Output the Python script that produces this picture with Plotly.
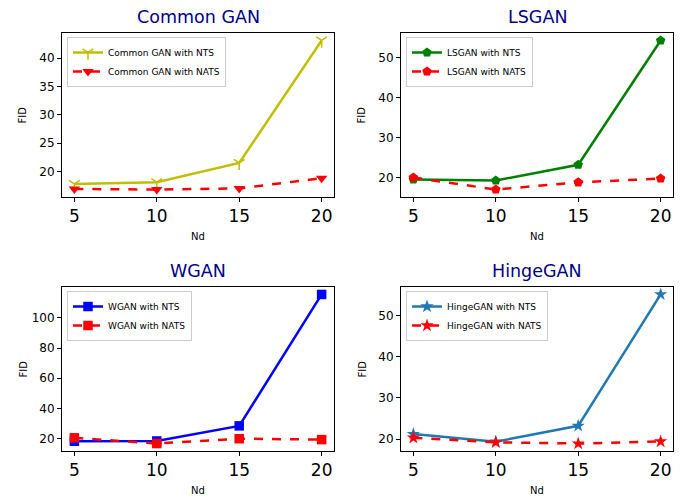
import plotly.graph_objects as go

nd = [5, 10, 15, 20]

common_nts = [17.8, 18.1, 21.5, 43.1]
common_nats = [16.9, 16.8, 17.0, 18.8]
lsgan_nts = [19.5, 19.25, 23.2, 54.3]
lsgan_nats = [20.0, 17.0, 18.8, 19.75]
wgan_nts = [18.3, 18.5, 28.5, 115.5]
wgan_nats = [20.6, 16.8, 20.0, 19.4]
hinge_nts = [21.2, 19.35, 23.2, 55.1]
hinge_nats = [20.3, 19.2, 18.9, 19.4]

titles = ["Common GAN", "LSGAN", "WGAN", "HingeGAN"]
names = ["Common GAN", "LSGAN", "WGAN", "HingeGAN"]
colors = ["#BFBF00", "#008000", "#0000FF", "#1f77b4"]
symbols = ["y-down-open", "pentagon", "square", "star"]
nats_symbols = ["triangle-down", "pentagon", "square", "star"]
sizes = [9, 10, 9.5, 10]
nts_data = [common_nts, lsgan_nts, wgan_nts, hinge_nts]
nats_data = [common_nats, lsgan_nats, wgan_nats, hinge_nats]
yticks = [[20, 25, 30, 35, 40], [20, 30, 40, 50], [20, 40, 60, 80, 100], [20, 30, 40, 50]]

W, H = 683, 497
boxes = [(62, 334, 33, 197), (401, 673, 33, 197), (62, 334, 287, 451), (401, 673, 287, 451)]

fig = go.Figure()
annotations = []
layout = dict(width=W, height=H, margin=dict(l=0, r=0, t=0, b=0),
              paper_bgcolor="white", plot_bgcolor="white",
              font=dict(family="DejaVu Sans", color="black"))

for i in range(4):
    k = "" if i == 0 else str(i + 1)
    x0, x1, y0, y1 = boxes[i]
    leg = "legend" if i == 0 else f"legend{i+1}"
    nts_marker = dict(symbol=symbols[i], size=sizes[i], color=colors[i])
    if i == 0:
        nts_marker["line"] = dict(color=colors[i], width=1.5)
    fig.add_trace(go.Scatter(x=nd, y=nts_data[i], mode="lines+markers",
                             name=f"{names[i]} with NTS",
                             line=dict(color=colors[i], width=2.5),
                             marker=nts_marker,
                             xaxis="x" + k, yaxis="y" + k, legend=leg))
    fig.add_trace(go.Scatter(x=nd, y=nats_data[i], mode="lines+markers",
                             name=f"{names[i]} with NATS",
                             line=dict(color="#FF0000", width=2.5, dash="dash"),
                             marker=dict(symbol=nats_symbols[i], size=sizes[i] + (1 if i == 0 else 0), color="#FF0000"),
                             xaxis="x" + k, yaxis="y" + k, legend=leg))
    allv = nts_data[i] + nats_data[i]
    lo, hi = min(allv), max(allv)
    pad = (hi - lo) * 0.05
    layout["xaxis" + k] = dict(domain=[x0 / W, x1 / W], anchor="y" + k,
                               range=[4.25, 20.75], tickvals=nd,
                               ticks="outside", ticklen=4, tickcolor="black",
                               showline=True, linecolor="black", linewidth=1,
                               mirror=True, showgrid=False, zeroline=False,
                               tickfont=dict(size=17))
    layout["yaxis" + k] = dict(domain=[1 - y1 / H, 1 - y0 / H], anchor="x" + k,
                               range=[lo - pad, hi + pad], tickvals=yticks[i],
                               ticks="outside", ticklen=4, tickcolor="black",
                               showline=True, linecolor="black", linewidth=1,
                               mirror=True, showgrid=False, zeroline=False,
                               tickfont=dict(size=12))
    layout[leg] = dict(x=(x0 + 5) / W, y=1 - (y0 + 4) / H, xanchor="left", yanchor="top",
                       bgcolor="rgba(255,255,255,0.8)", bordercolor="#cccccc", borderwidth=1,
                       font=dict(size=9), tracegroupgap=0, itemwidth=30)
    cx = (x0 + x1) / 2
    annotations.append(dict(text=titles[i], x=cx / W, y=1 - (y0 - 16) / H,
                            xref="paper", yref="paper", showarrow=False,
                            xanchor="center", yanchor="middle",
                            font=dict(size=17.5, color="#00008B")))
    annotations.append(dict(text="Nd", x=cx / W, y=1 - (y1 + 39) / H,
                            xref="paper", yref="paper", showarrow=False,
                            xanchor="center", yanchor="middle",
                            font=dict(size=10)))
    annotations.append(dict(text="FID", x=(x0 - 39.5) / W, y=1 - ((y0 + y1) / 2) / H,
                            xref="paper", yref="paper", showarrow=False, textangle=-90,
                            xanchor="center", yanchor="middle",
                            font=dict(size=10)))

layout["annotations"] = annotations
layout["showlegend"] = True
fig.update_layout(**layout)
fig.write_html("out.html", config={"displayModeBar": False},
               post_script="document.body.style.margin='0';document.body.style.overflow='hidden';")
